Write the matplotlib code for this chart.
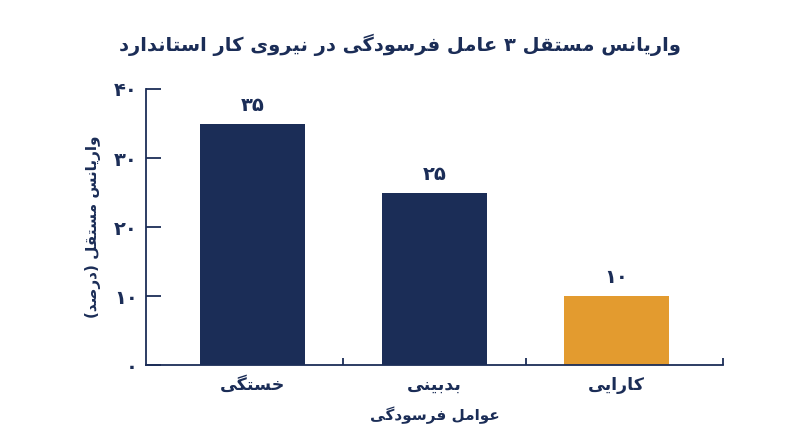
import matplotlib
matplotlib.use("Agg")
import matplotlib.pyplot as plt
from matplotlib.ticker import FuncFormatter

plt.rcParams['font.family'] = ['DejaVu Sans']

# داده ها
categories = ["خستگی", "بدبینی", "کارایی"]
values = [35, 25, 10]
bar_colors = ["#1b2d57", "#1b2d57", "#e39b2f"]
y_ticks = [0, 10, 20, 30, 40]

title = "واریانس مستقل ۳ عامل فرسودگی در نیروی کار استاندارد"
y_label = "واریانس مستقل (درصد)"
x_label = "عوامل فرسودگی"

NAVY = "#1b2d57"

# شکل های حروف: (isolated, final, initial, medial)
FORMS = {
    'ا': ('\uFE8D', '\uFE8E', None, None),
    'ب': ('\uFE8F', '\uFE90', '\uFE91', '\uFE92'),
    'ت': ('\uFE95', '\uFE96', '\uFE97', '\uFE98'),
    'خ': ('\uFEA5', '\uFEA6', '\uFEA7', '\uFEA8'),
    'د': ('\uFEA9', '\uFEAA', None, None),
    'ر': ('\uFEAD', '\uFEAE', None, None),
    'س': ('\uFEB1', '\uFEB2', '\uFEB3', '\uFEB4'),
    'ص': ('\uFEB9', '\uFEBA', '\uFEBB', '\uFEBC'),
    'ع': ('\uFEC9', '\uFECA', '\uFECB', '\uFECC'),
    'ف': ('\uFED1', '\uFED2', '\uFED3', '\uFED4'),
    'ق': ('\uFED5', '\uFED6', '\uFED7', '\uFED8'),
    'ک': ('\uFB8E', '\uFB8F', '\uFB90', '\uFB91'),
    'گ': ('\uFB92', '\uFB93', '\uFB94', '\uFB95'),
    'ل': ('\uFEDD', '\uFEDE', '\uFEDF', '\uFEE0'),
    'م': ('\uFEE1', '\uFEE2', '\uFEE3', '\uFEE4'),
    'ن': ('\uFEE5', '\uFEE6', '\uFEE7', '\uFEE8'),
    'و': ('\uFEED', '\uFEEE', None, None),
    'ی': ('\uFBFC', '\uFBFD', '\uFBFE', '\uFBFF'),
}
FA_DIGITS = "۰۱۲۳۴۵۶۷۸۹"


def dual(c):
    return c in FORMS and FORMS[c][2] is not None


def fa(text):
    # شکل دادن حروف و راست به چپ کردن متن
    out = []
    for i, c in enumerate(text):
        if c not in FORMS:
            out.append(c)
            continue
        prev_j = i > 0 and dual(text[i - 1])
        next_j = i < len(text) - 1 and text[i + 1] in FORMS and dual(c)
        f = FORMS[c]
        if prev_j and next_j:
            out.append(f[3])
        elif prev_j:
            out.append(f[1])
        elif next_j:
            out.append(f[2])
        else:
            out.append(f[0])
    s = out[::-1]
    # اعداد چپ به راست می مانند
    res, run = [], []
    for c in s:
        if c in FA_DIGITS:
            run.append(c)
        else:
            res.extend(run[::-1])
            run = []
            res.append({'(': ')', ')': '('}.get(c, c))
    res.extend(run[::-1])
    return "".join(res)


def fa_num(n):
    return "".join(FA_DIGITS[int(d)] for d in str(int(n)))


fig = plt.figure(figsize=(8, 4.47), dpi=100)
ax = fig.add_axes([0.1825, 0.1834, 0.72125, 0.6175])

x = list(range(len(categories)))
bars = ax.bar(x, values, width=0.575, color=bar_colors)

for xi, v in zip(x, values):
    ax.text(xi, v + 1.3, fa_num(v), ha='center', va='bottom',
            fontsize=14, fontweight='bold', color=NAVY)

ax.set_xlim(-0.585, 2.585)
ax.set_ylim(0, 40)
ax.set_yticks(y_ticks)
ax.yaxis.set_major_formatter(FuncFormatter(lambda v, p: fa_num(v)))
ax.tick_params(axis='y', direction='in', length=11, width=1.3, color=NAVY,
               labelsize=14, labelcolor=NAVY, pad=6)
for lbl in ax.get_yticklabels():
    lbl.set_fontweight('bold')

ax.set_xticks(x)
ax.set_xticklabels([fa(c) for c in categories], fontsize=12.5, fontweight='bold', color=NAVY)
ax.tick_params(axis='x', length=0, pad=8)
ax.set_xticks([0.5, 1.5, 2.585], minor=True)
ax.tick_params(axis='x', which='minor', direction='in', length=5, width=1.3, color=NAVY)

for side in ['top', 'right']:
    ax.spines[side].set_visible(False)
for side in ['left', 'bottom']:
    ax.spines[side].set_color(NAVY)
    ax.spines[side].set_linewidth(1.3)

ax.set_xlabel(fa(x_label), fontsize=11, fontweight='bold', color=NAVY, labelpad=9)
ax.set_ylabel(fa(y_label), fontsize=11, fontweight='bold', color=NAVY, labelpad=9)

fig.text(0.5, 0.9, fa(title), ha='center', va='center', fontsize=14,
         fontweight='bold', color=NAVY)

fig.savefig("out.png", dpi=100)
